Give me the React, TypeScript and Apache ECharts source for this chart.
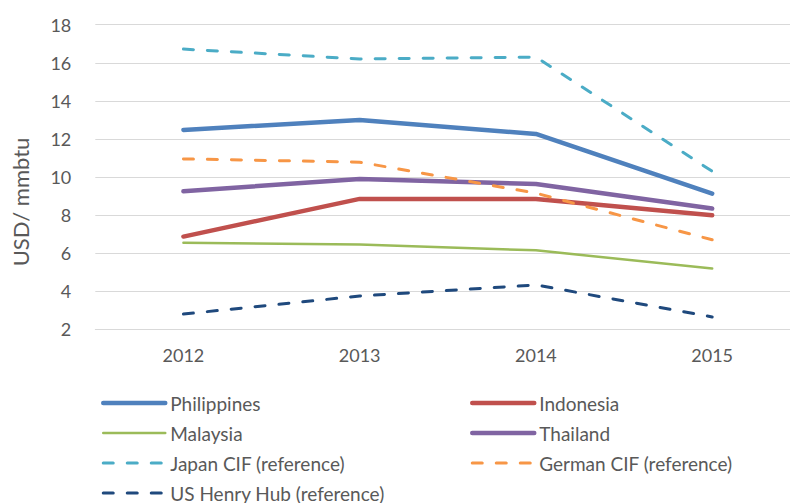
import React, { useEffect, useRef } from "react";
import * as echarts from "echarts";

const years = ["2012", "2013", "2014", "2015"];
const philippines = [12.47, 13.0, 12.26, 9.13];
const indonesia = [6.87, 8.85, 8.85, 7.99];
const malaysia = [6.55, 6.45, 6.15, 5.19];
const thailand = [9.25, 9.9, 9.63, 8.34];
const japanCIF = [16.72, 16.2, 16.3, 10.3];
const germanCIF = [10.95, 10.78, 9.15, 6.7];
const henryHub = [2.8, 3.75, 4.33, 2.65];

const FONT = "Lato, 'Open Sans', sans-serif";
const TXT = "#595959";

const COLORS: Record<string, string> = {
  Philippines: "#4F81BD",
  Indonesia: "#C0504D",
  Malaysia: "#9BBB59",
  Thailand: "#8064A2",
  "Japan CIF (reference)": "#4BACC6",
  "German CIF (reference)": "#F79646",
  "US Henry Hub (reference)": "#1F497D",
};
const WIDTHS: Record<string, number> = {
  Philippines: 4.5,
  Indonesia: 4.5,
  Malaysia: 2.5,
  Thailand: 4.5,
};

export default function App() {
  const ref = useRef<HTMLDivElement>(null);
  useEffect(() => {
    if (!ref.current) return;
    const chart = echarts.init(ref.current, null, { renderer: "svg" });
    const DASH = [10, 14];
    const solid = (name: string, data: number[]) => ({
      name,
      type: "line",
      data,
      symbol: "none",
      lineStyle: { color: COLORS[name], width: WIDTHS[name], cap: "round" },
      itemStyle: { color: COLORS[name] },
    });
    const dashed = (name: string, data: number[]) => ({
      name,
      type: "line",
      data,
      symbol: "none",
      lineStyle: { color: COLORS[name], width: 3, type: DASH, cap: "round" },
      itemStyle: { color: COLORS[name] },
    });
    const legendItem = (name: string) => ({
      name,
      itemStyle: { opacity: 0 },
      lineStyle: WIDTHS[name]
        ? { color: COLORS[name], width: WIDTHS[name], type: "solid", cap: "round" }
        : { color: COLORS[name], width: 3, type: DASH, cap: "round" },
    });
    const legendCommon = {
      orient: "vertical",
      itemWidth: 62,
      itemHeight: 14,
      itemGap: 10,
      itemStyle: { opacity: 0 },
      textStyle: { fontFamily: FONT, fontSize: 19, color: TXT, lineHeight: 20 },
      padding: 0,
    };
    chart.setOption({
      animation: false,
      textStyle: { fontFamily: FONT },
      grid: {
        left: 95.3,
        top: 24.7,
        width: 705,
        height: 304.6,
        containLabel: false,
        outerBoundsMode: "none",
      },
      xAxis: {
        type: "category",
        data: years,
        boundaryGap: true,
        axisLine: { show: true, lineStyle: { color: "#d9d9d9", width: 1 } },
        axisTick: { show: false },
        axisLabel: { color: TXT, fontSize: 18, fontFamily: FONT, margin: 17 },
      },
      yAxis: {
        type: "value",
        min: 2,
        max: 18,
        interval: 2,
        axisLine: { show: false },
        axisTick: { show: false },
        axisLabel: { color: TXT, fontSize: 18, fontFamily: FONT, margin: 24 },
        splitLine: { lineStyle: { color: "#d9d9d9", width: 1 } },
      },
      legend: [
        {
          ...legendCommon,
          left: 101,
          top: 393,
          data: ["Philippines", "Malaysia", "Japan CIF (reference)", "US Henry Hub (reference)"].map(legendItem),
        },
        {
          ...legendCommon,
          left: 470,
          top: 393,
          data: ["Indonesia", "Thailand", "German CIF (reference)"].map(legendItem),
        },
      ],
      graphic: [
        {
          type: "text",
          x: 20,
          y: 202,
          rotation: Math.PI / 2,
          style: {
            text: "USD/ mmbtu",
            fill: TXT,
            font: `22px ${FONT}`,
            align: "center",
            verticalAlign: "middle",
          },
        },
      ],
      series: [
        solid("Philippines", philippines),
        solid("Indonesia", indonesia),
        solid("Malaysia", malaysia),
        solid("Thailand", thailand),
        dashed("Japan CIF (reference)", japanCIF),
        dashed("German CIF (reference)", germanCIF),
        dashed("US Henry Hub (reference)", henryHub),
      ],
    });
    return () => chart.dispose();
  }, []);
  return <div ref={ref} style={{ width: 790, height: 503, position: "absolute", left: 0, top: 0 }} />;
}
